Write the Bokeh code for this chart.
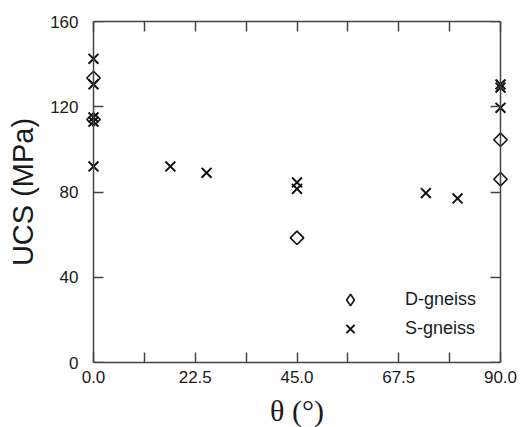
from bokeh.plotting import figure
from bokeh.models import LinearAxis, FixedTicker, Range1d, Legend, LegendItem, NumeralTickFormatter
from bokeh.embed import file_html
from bokeh.resources import INLINE
import math

# Data
d_theta = [0, 0, 45, 90, 90]
d_ucs = [133.5, 114.0, 58.5, 104.5, 86.0]
s_theta = [0, 0, 0, 0, 0, 17, 25, 45, 45, 73.5, 80.5, 90, 90, 90]
s_ucs = [142.5, 130.5, 115.0, 113.0, 92.0, 92.0, 89.0, 84.5, 81.5, 79.5, 77.0, 130.5, 129.0, 119.5]

x_major = [0, 22.5, 45, 67.5, 90]
x_minor = [11.25, 33.75, 56.25, 78.75]
y_major = [0, 40, 80, 120, 160]

XMIN, XMAX = 0, 90
PAD = 1.77

p = figure(frame_width=423, frame_height=341, output_backend="svg", toolbar_location=None,
           x_range=Range1d(XMIN - PAD, XMAX + PAD), y_range=Range1d(0, 160),
           min_border_left=85, min_border_top=21, min_border_right=16, min_border_bottom=65)
p.xgrid.visible = False
p.ygrid.visible = False
p.outline_line_color = None

axcol = "#444444"
txtcol = "#1a1a1a"

def style(ax, xaxis):
    ax.ticker = FixedTicker(ticks=x_major, minor_ticks=x_minor) if xaxis else FixedTicker(ticks=y_major)
    ax.axis_line_color = axcol
    ax.axis_line_width = 1.5
    ax.major_tick_line_color = axcol
    ax.minor_tick_line_color = axcol
    ax.major_tick_line_width = 1.5
    ax.minor_tick_line_width = 1.5
    ax.major_tick_in = 10
    ax.major_tick_out = 0
    ax.minor_tick_in = 10
    ax.minor_tick_out = 0
    if xaxis:
        ax.bounds = (XMIN, XMAX)

def hide_labels(ax):
    ax.major_label_text_font_size = "0px"
    ax.major_label_standoff = 0
    ax.major_label_text_color = None

# bottom axis (labels + line)
xa = p.xaxis[0]
style(xa, True)
xa.formatter = NumeralTickFormatter(format="0.0")
xa.major_label_text_font = "Liberation Sans"
xa.major_label_text_font_size = "17px"
xa.major_label_text_color = txtcol
xa.major_label_standoff = 8
xa.axis_label = "θ (°)"
xa.axis_label_text_font = "Liberation Serif"
xa.axis_label_text_font_style = "normal"
xa.axis_label_text_font_size = "30px"
xa.axis_label_text_color = txtcol
xa.axis_label_standoff = 8

# left axis: labels only (sits at frame edge)
ya = p.yaxis[0]
ya.ticker = FixedTicker(ticks=y_major)
ya.axis_line_color = None
ya.major_tick_line_color = None
ya.minor_tick_line_color = None
ya.major_label_text_font = "Liberation Sans"
ya.major_label_text_font_size = "17px"
ya.major_label_text_color = txtcol
ya.major_label_standoff = 1
ya.axis_label = "UCS (MPa)"
ya.axis_label_text_font = "Liberation Sans"
ya.axis_label_text_font_style = "normal"
ya.axis_label_text_font_size = "29px"
ya.axis_label_text_color = txtcol
ya.axis_label_standoff = 8

# left axis line + ticks at theta = 0
yline = LinearAxis(fixed_location=XMIN)
style(yline, False)
hide_labels(yline)
p.add_layout(yline, "left")

top = LinearAxis()
style(top, True)
hide_labels(top)
p.add_layout(top, "above")

right = LinearAxis(fixed_location=XMAX)
style(right, False)
hide_labels(right)
p.add_layout(right, "right")

r_d = p.scatter(d_theta, d_ucs, marker="square", size=9.5, angle=math.pi / 4,
                fill_color=None, line_color="#111111", line_width=1.6)
r_s = p.scatter(s_theta, s_ucs, marker="x", size=14, line_color="#111111", line_width=2)
# legend-only glyph for the diamond (legend glyphs are drawn unrotated)
nan = float("nan")
r_d_leg = p.scatter([nan], [nan], marker="diamond", fill_color=None, line_color="#111111", line_width=1.6)

legend = Legend(items=[LegendItem(label="D-gneiss", renderers=[r_d_leg]),
                       LegendItem(label="S-gneiss", renderers=[r_s])],
                location=(247, 19), border_line_color=None, background_fill_alpha=0,
                label_text_font="Liberation Sans", label_text_font_size="18px",
                label_text_color=txtcol, label_standoff=37, glyph_width=36, glyph_height=29,
                label_height=20, spacing=0, padding=4)
p.add_layout(legend, "center")

open("out.html", "w").write(file_html(p, INLINE))
